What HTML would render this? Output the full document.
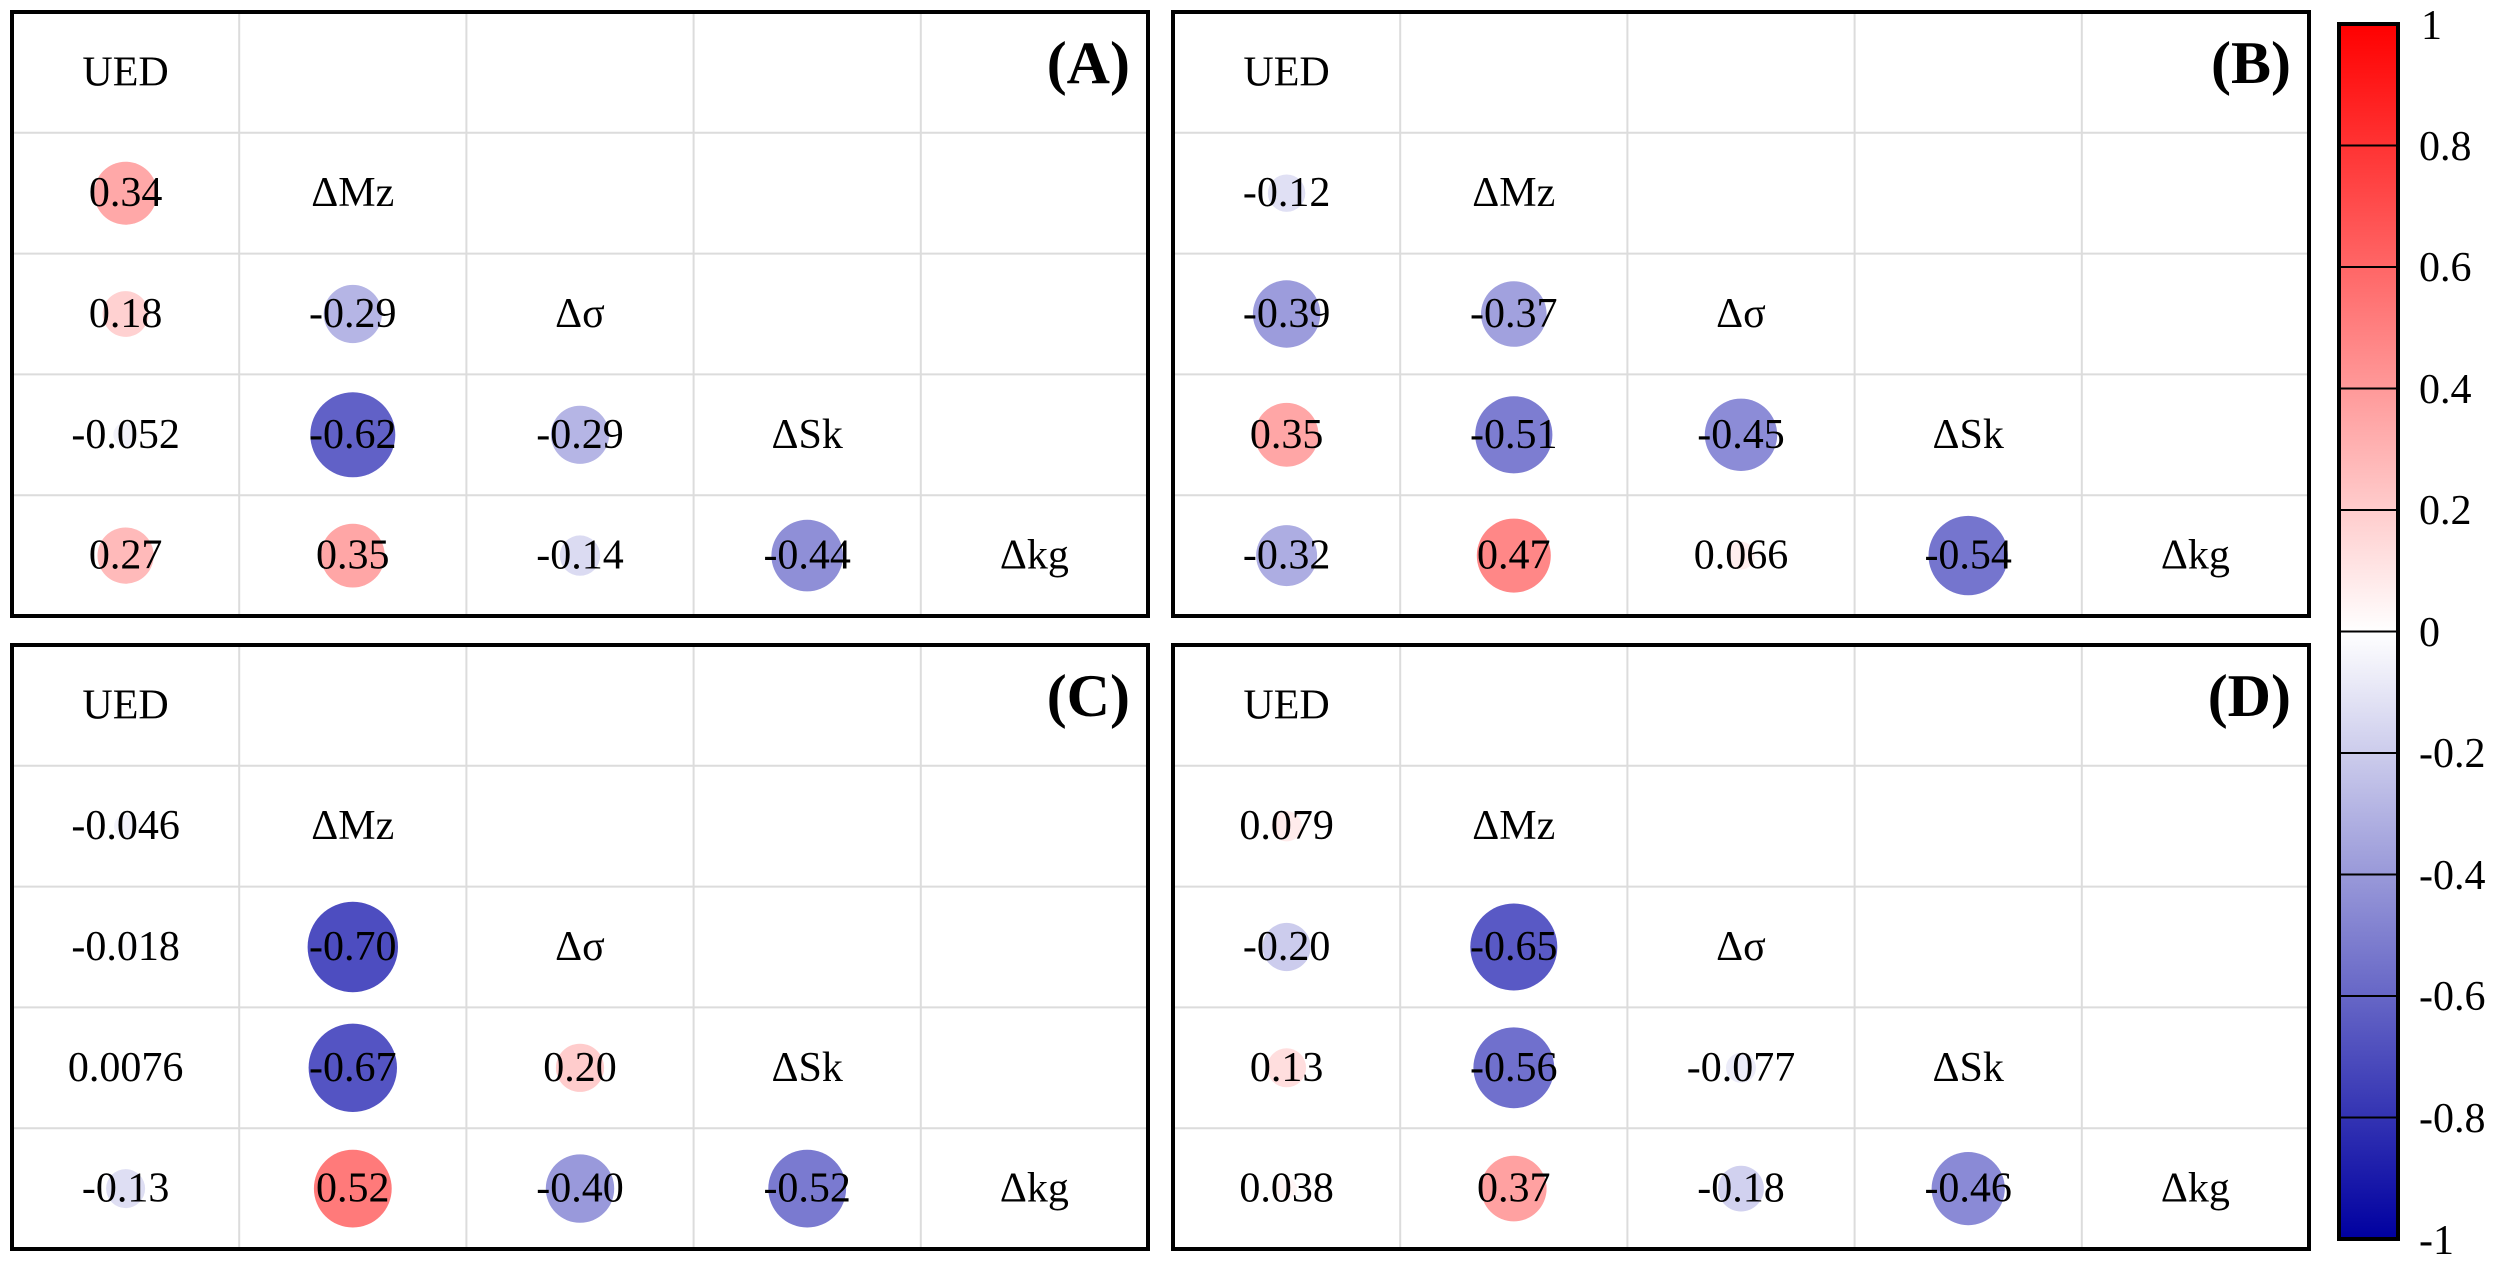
<!DOCTYPE html>
<html><head><meta charset="utf-8"><style>
html,body{margin:0;padding:0;background:#fff;}
svg{display:block;font-family:"Liberation Serif","Times New Roman",serif;}
svg text{font-family:"Liberation Serif","Times New Roman",serif !important;font-size:42px;fill:#000;}
svg text.t{font-size:60px;font-weight:bold;}
</style></head><body>
<svg width="2500" height="1268" viewBox="0 0 2500 1268" xmlns="http://www.w3.org/2000/svg" font-family="Liberation Serif, serif">
<defs>
<g id="grid" stroke="#dcdcdc" stroke-width="2">
<line x1="227.2" y1="0" x2="227.2" y2="604"/><line x1="454.4" y1="0" x2="454.4" y2="604"/>
<line x1="681.6" y1="0" x2="681.6" y2="604"/><line x1="908.8" y1="0" x2="908.8" y2="604"/>
<line x1="0" y1="120.8" x2="1136" y2="120.8"/><line x1="0" y1="241.6" x2="1136" y2="241.6"/>
<line x1="0" y1="362.4" x2="1136" y2="362.4"/><line x1="0" y1="483.2" x2="1136" y2="483.2"/>
</g>
<linearGradient id="cb" x1="0" y1="0" x2="0" y2="1">
<stop offset="0" stop-color="#ff0000"/><stop offset="0.5" stop-color="#ffffff"/><stop offset="1" stop-color="#0000a0"/>
</linearGradient>
</defs>

<!-- Panel A -->
<g transform="translate(12,12)">
<use href="#grid"/>
<circle cx="113.6" cy="181.2" r="31.5" fill="rgb(255,168,168)"/>
<circle cx="113.6" cy="302" r="22.9" fill="rgb(255,209,209)"/>
<circle cx="340.8" cy="302" r="29.1" fill="rgb(181,181,229)"/>
<circle cx="113.6" cy="422.8" r="12.3" fill="rgb(242,242,250)"/>
<circle cx="340.8" cy="422.8" r="42.5" fill="rgb(97,97,199)"/>
<circle cx="568" cy="422.8" r="29.1" fill="rgb(181,181,229)"/>
<circle cx="113.6" cy="543.6" r="28.1" fill="rgb(255,186,186)"/>
<circle cx="340.8" cy="543.6" r="31.9" fill="rgb(255,166,166)"/>
<circle cx="568" cy="543.6" r="20.2" fill="rgb(219,219,242)"/>
<circle cx="795.2" cy="543.6" r="35.8" fill="rgb(143,143,215)"/>
<g text-anchor="middle" dominant-baseline="central" font-family="Liberation Serif, serif">
<text x="113.6" y="60.4">UED</text><text x="340.8" y="181.2">ΔMz</text><text x="568" y="302">Δσ</text><text x="795.2" y="422.8">ΔSk</text><text x="1022.4" y="543.6">Δkg</text>
<text x="113.6" y="181.2">0.34</text>
<text x="113.6" y="302">0.18</text><text x="340.8" y="302">-0.29</text>
<text x="113.6" y="422.8">-0.052</text><text x="340.8" y="422.8">-0.62</text><text x="568" y="422.8">-0.29</text>
<text x="113.6" y="543.6">0.27</text><text x="340.8" y="543.6">0.35</text><text x="568" y="543.6">-0.14</text><text x="795.2" y="543.6">-0.44</text>
</g>
<text class="t" x="1118" y="51" text-anchor="end" dominant-baseline="central">(A)</text>
<rect x="0" y="0" width="1136" height="604" fill="none" stroke="#000" stroke-width="4"/>
</g>

<!-- Panel B -->
<g transform="translate(1173,12)">
<use href="#grid"/>
<circle cx="113.6" cy="181.2" r="18.7" fill="rgb(224,224,244)"/>
<circle cx="113.6" cy="302" r="33.7" fill="rgb(156,156,220)"/>
<circle cx="340.8" cy="302" r="32.8" fill="rgb(161,161,222)"/>
<circle cx="113.6" cy="422.8" r="31.9" fill="rgb(255,166,166)"/>
<circle cx="340.8" cy="422.8" r="38.6" fill="rgb(125,125,209)"/>
<circle cx="568" cy="422.8" r="36.2" fill="rgb(140,140,215)"/>
<circle cx="113.6" cy="543.6" r="30.5" fill="rgb(173,173,226)"/>
<circle cx="340.8" cy="543.6" r="37" fill="rgb(255,135,135)"/>
<circle cx="568" cy="543.6" r="13.9" fill="rgb(255,238,238)"/>
<circle cx="795.2" cy="543.6" r="39.7" fill="rgb(117,117,206)"/>
<g text-anchor="middle" dominant-baseline="central" font-family="Liberation Serif, serif">
<text x="113.6" y="60.4">UED</text><text x="340.8" y="181.2">ΔMz</text><text x="568" y="302">Δσ</text><text x="795.2" y="422.8">ΔSk</text><text x="1022.4" y="543.6">Δkg</text>
<text x="113.6" y="181.2">-0.12</text>
<text x="113.6" y="302">-0.39</text><text x="340.8" y="302">-0.37</text>
<text x="113.6" y="422.8">0.35</text><text x="340.8" y="422.8">-0.51</text><text x="568" y="422.8">-0.45</text>
<text x="113.6" y="543.6">-0.32</text><text x="340.8" y="543.6">0.47</text><text x="568" y="543.6">0.066</text><text x="795.2" y="543.6">-0.54</text>
</g>
<text class="t" x="1118" y="51" text-anchor="end" dominant-baseline="central">(B)</text>
<rect x="0" y="0" width="1136" height="604" fill="none" stroke="#000" stroke-width="4"/>
</g>

<!-- Panel C -->
<g transform="translate(12,645)">
<use href="#grid"/>
<circle cx="113.6" cy="181.2" r="11.6" fill="rgb(243,243,251)"/>
<circle cx="113.6" cy="302" r="7.2" fill="rgb(250,250,253)"/>
<circle cx="340.8" cy="302" r="45.2" fill="rgb(77,77,192)"/>
<circle cx="113.6" cy="422.8" r="4.7" fill="rgb(255,253,253)"/>
<circle cx="340.8" cy="422.8" r="44.2" fill="rgb(84,84,195)"/>
<circle cx="568" cy="422.8" r="24.1" fill="rgb(255,204,204)"/>
<circle cx="113.6" cy="543.6" r="19.5" fill="rgb(222,222,243)"/>
<circle cx="340.8" cy="543.6" r="38.9" fill="rgb(255,122,122)"/>
<circle cx="568" cy="543.6" r="34.2" fill="rgb(153,153,219)"/>
<circle cx="795.2" cy="543.6" r="38.9" fill="rgb(122,122,208)"/>
<g text-anchor="middle" dominant-baseline="central" font-family="Liberation Serif, serif">
<text x="113.6" y="60.4">UED</text><text x="340.8" y="181.2">ΔMz</text><text x="568" y="302">Δσ</text><text x="795.2" y="422.8">ΔSk</text><text x="1022.4" y="543.6">Δkg</text>
<text x="113.6" y="181.2">-0.046</text>
<text x="113.6" y="302">-0.018</text><text x="340.8" y="302">-0.70</text>
<text x="113.6" y="422.8">0.0076</text><text x="340.8" y="422.8">-0.67</text><text x="568" y="422.8">0.20</text>
<text x="113.6" y="543.6">-0.13</text><text x="340.8" y="543.6">0.52</text><text x="568" y="543.6">-0.40</text><text x="795.2" y="543.6">-0.52</text>
</g>
<text class="t" x="1118" y="51" text-anchor="end" dominant-baseline="central">(C)</text>
<rect x="0" y="0" width="1136" height="604" fill="none" stroke="#000" stroke-width="4"/>
</g>

<!-- Panel D -->
<g transform="translate(1173,645)">
<use href="#grid"/>
<circle cx="113.6" cy="181.2" r="15.2" fill="rgb(255,235,235)"/>
<circle cx="113.6" cy="302" r="24.1" fill="rgb(204,204,237)"/>
<circle cx="340.8" cy="302" r="43.5" fill="rgb(89,89,197)"/>
<circle cx="113.6" cy="422.8" r="19.5" fill="rgb(255,222,222)"/>
<circle cx="340.8" cy="422.8" r="40.4" fill="rgb(112,112,205)"/>
<circle cx="568" cy="422.8" r="15" fill="rgb(235,235,248)"/>
<circle cx="113.6" cy="543.6" r="10.5" fill="rgb(255,245,245)"/>
<circle cx="340.8" cy="543.6" r="32.8" fill="rgb(255,161,161)"/>
<circle cx="568" cy="543.6" r="22.9" fill="rgb(209,209,239)"/>
<circle cx="795.2" cy="543.6" r="36.6" fill="rgb(138,138,214)"/>
<g text-anchor="middle" dominant-baseline="central" font-family="Liberation Serif, serif">
<text x="113.6" y="60.4">UED</text><text x="340.8" y="181.2">ΔMz</text><text x="568" y="302">Δσ</text><text x="795.2" y="422.8">ΔSk</text><text x="1022.4" y="543.6">Δkg</text>
<text x="113.6" y="181.2">0.079</text>
<text x="113.6" y="302">-0.20</text><text x="340.8" y="302">-0.65</text>
<text x="113.6" y="422.8">0.13</text><text x="340.8" y="422.8">-0.56</text><text x="568" y="422.8">-0.077</text>
<text x="113.6" y="543.6">0.038</text><text x="340.8" y="543.6">0.37</text><text x="568" y="543.6">-0.18</text><text x="795.2" y="543.6">-0.46</text>
</g>
<text class="t" x="1118" y="51" text-anchor="end" dominant-baseline="central">(D)</text>
<rect x="0" y="0" width="1136" height="604" fill="none" stroke="#000" stroke-width="4"/>
</g>

<!-- Colorbar -->
<rect x="2339" y="24" width="59" height="1215" fill="url(#cb)"/>
<g stroke="#000" stroke-width="2">
<line x1="2339" y1="145.5" x2="2398" y2="145.5"/><line x1="2339" y1="267" x2="2398" y2="267"/>
<line x1="2339" y1="388.5" x2="2398" y2="388.5"/><line x1="2339" y1="510" x2="2398" y2="510"/>
<line x1="2339" y1="631.5" x2="2398" y2="631.5"/><line x1="2339" y1="753" x2="2398" y2="753"/>
<line x1="2339" y1="874.5" x2="2398" y2="874.5"/><line x1="2339" y1="996" x2="2398" y2="996"/>
<line x1="2339" y1="1117.5" x2="2398" y2="1117.5"/>
</g>
<rect x="2339" y="24" width="59" height="1215" fill="none" stroke="#000" stroke-width="4"/>
<g dominant-baseline="central" font-family="Liberation Serif, serif">
<text x="2421" y="26">1</text>
<text x="2419" y="147">0.8</text>
<text x="2419" y="268">0.6</text>
<text x="2419" y="390">0.4</text>
<text x="2419" y="511">0.2</text>
<text x="2419" y="633">0</text>
<text x="2419" y="754">-0.2</text>
<text x="2419" y="876">-0.4</text>
<text x="2419" y="997">-0.6</text>
<text x="2419" y="1119">-0.8</text>
<text x="2419" y="1241">-1</text>
</g>
</svg>
</body></html>
